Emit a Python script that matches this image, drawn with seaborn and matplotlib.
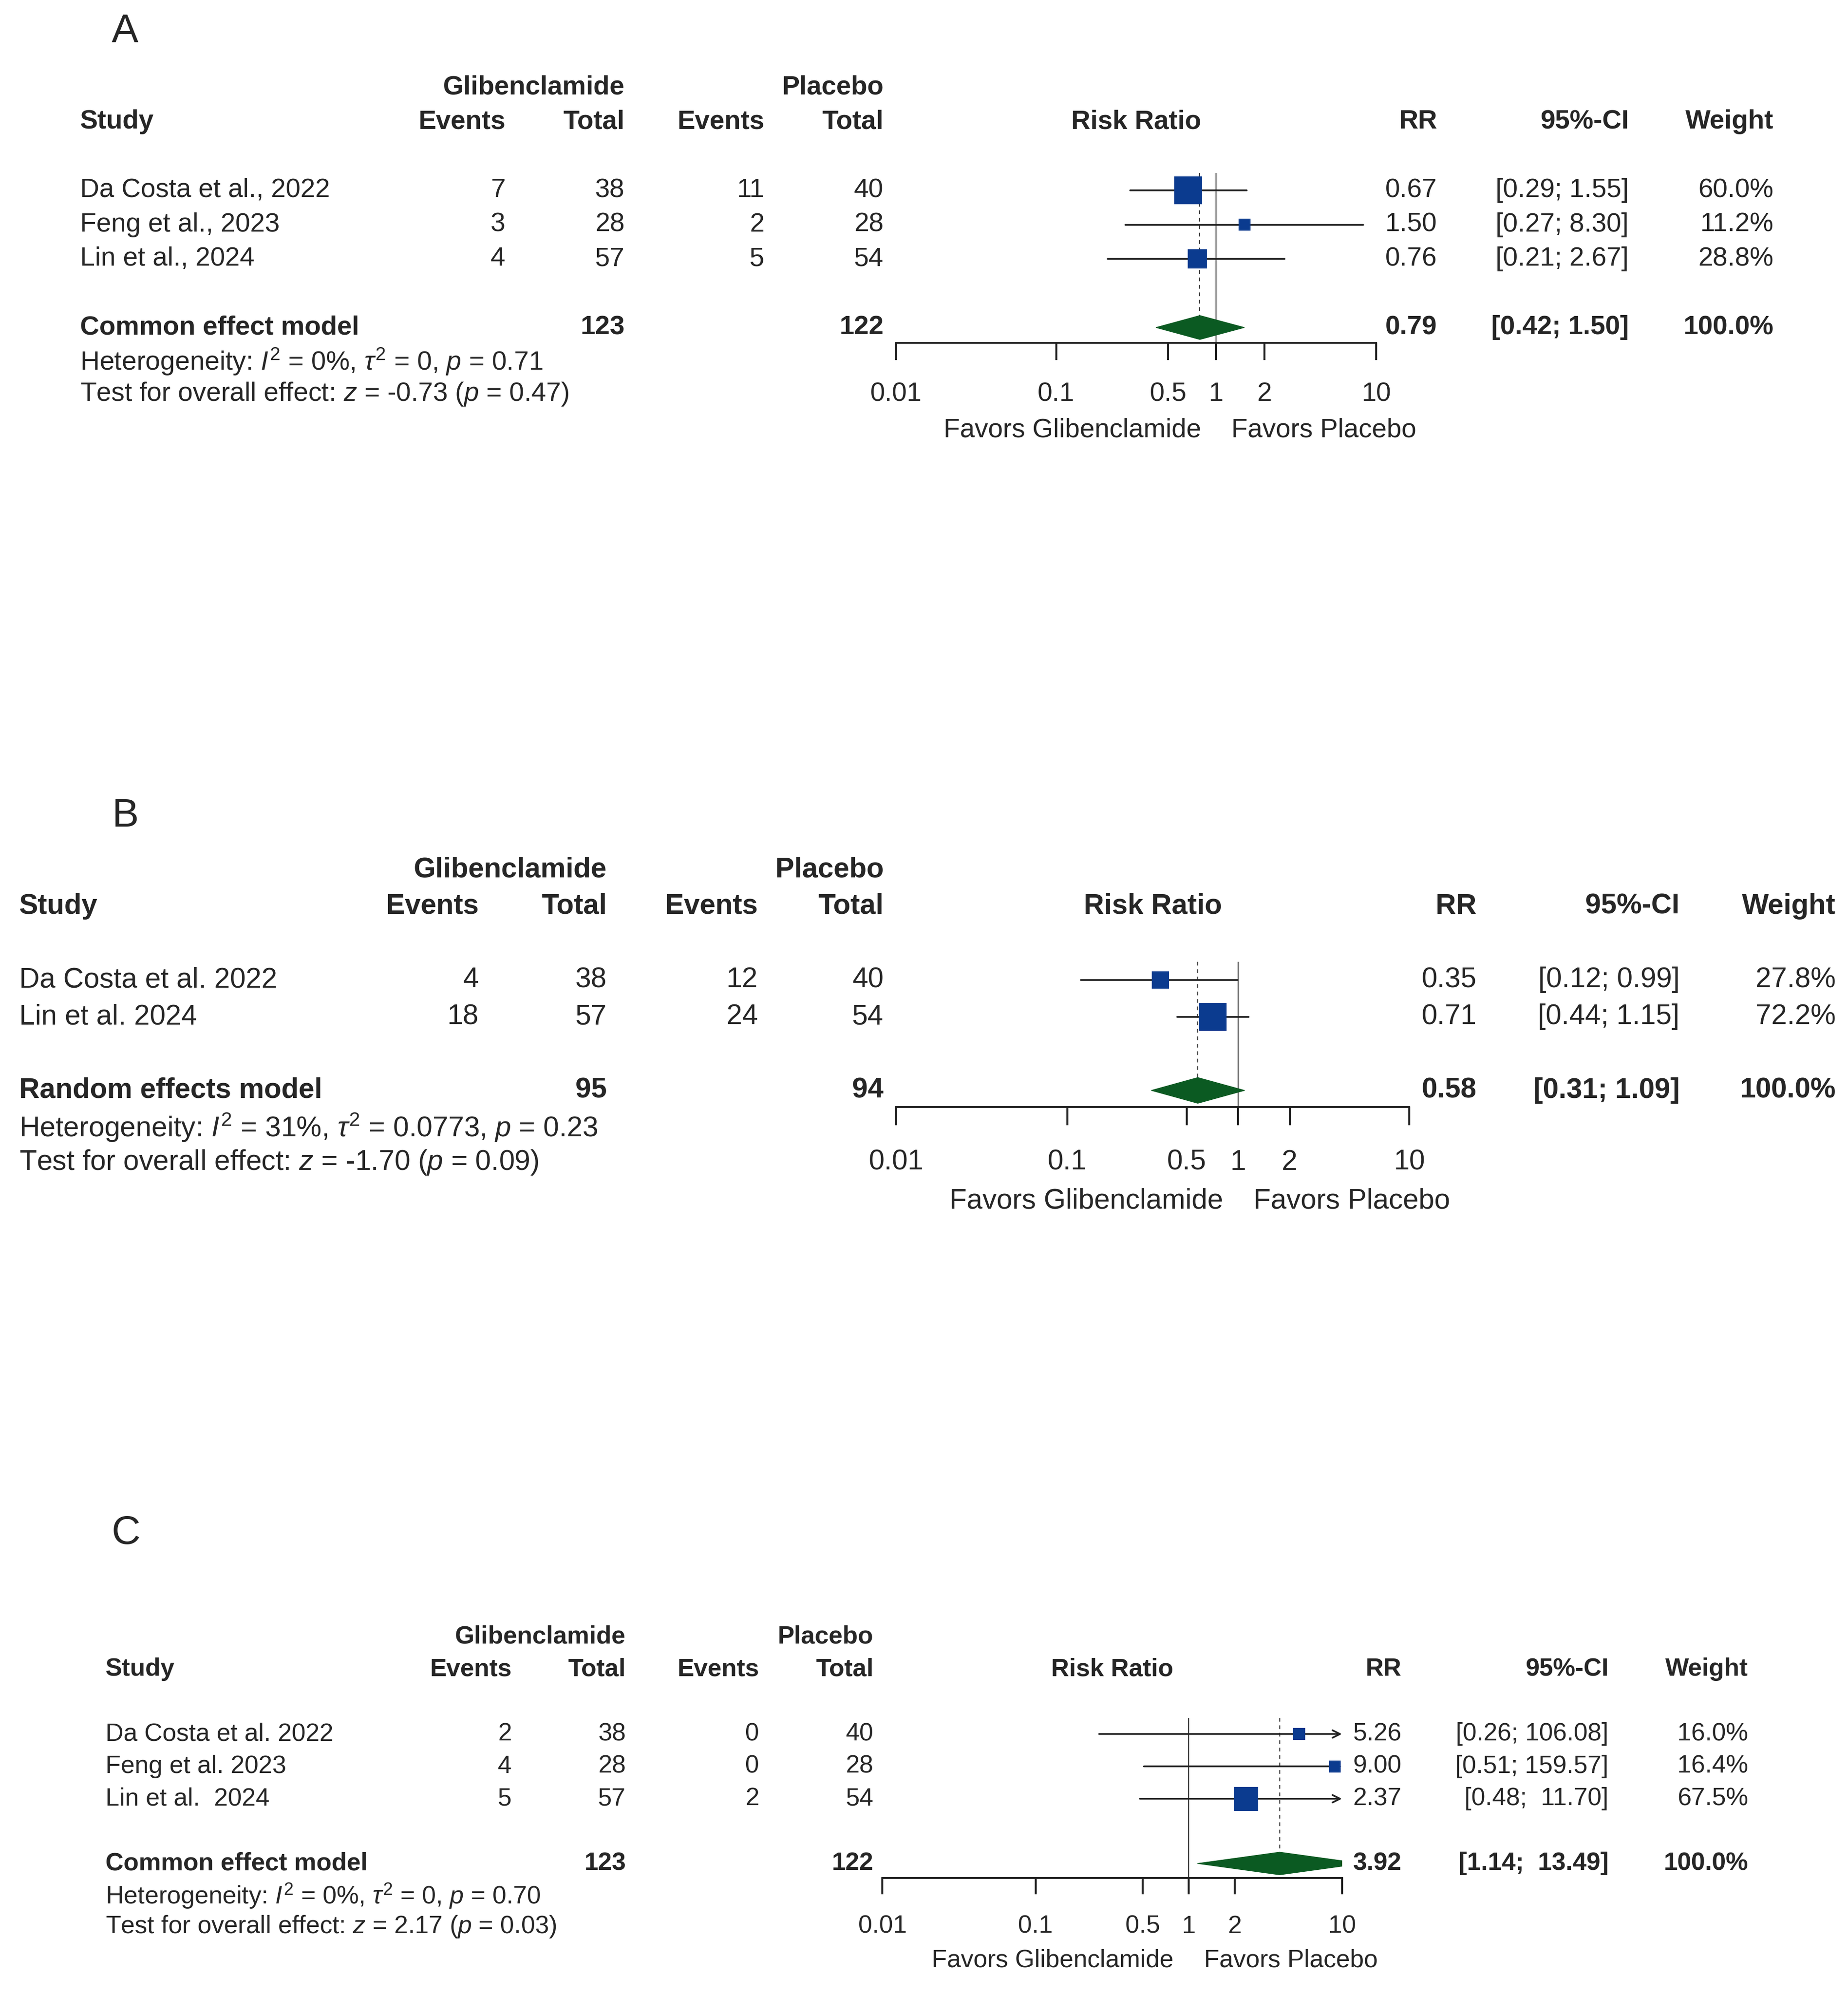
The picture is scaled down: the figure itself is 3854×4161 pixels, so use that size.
import matplotlib
matplotlib.use("Agg")
import matplotlib.pyplot as plt
import matplotlib.transforms as mtransforms
from matplotlib.patches import Polygon
import pandas as pd
import seaborn as sns

# Panel A
A_STUDIES = ["Da Costa et al., 2022", "Feng et al., 2023", "Lin et al., 2024"]
A_GLIB_EVENTS = [7, 3, 4]
A_GLIB_TOTAL = [38, 28, 57]
A_PLAC_EVENTS = [11, 2, 5]
A_PLAC_TOTAL = [40, 28, 54]
A_RR = [0.67, 1.50, 0.76]
A_LOWER = [0.29, 0.27, 0.21]
A_UPPER = [1.55, 8.30, 2.67]
A_WEIGHT = [60.0, 11.2, 28.8]
A_POOLED = [0.79, 0.42, 1.50]
A_MODEL = "Common effect model"
A_HET = ["0", "0", "0.71"]      # I2, tau2, p
A_TEST = ["-0.73", "0.47"]      # z, p

# Panel B
B_STUDIES = ["Da Costa et al. 2022", "Lin et al. 2024"]
B_GLIB_EVENTS = [4, 18]
B_GLIB_TOTAL = [38, 57]
B_PLAC_EVENTS = [12, 24]
B_PLAC_TOTAL = [40, 54]
B_RR = [0.35, 0.71]
B_LOWER = [0.12, 0.44]
B_UPPER = [0.99, 1.15]
B_WEIGHT = [27.8, 72.2]
B_POOLED = [0.58, 0.31, 1.09]
B_MODEL = "Random effects model"
B_HET = ["31", "0.0773", "0.23"]
B_TEST = ["-1.70", "0.09"]

# Panel C
C_STUDIES = ["Da Costa et al. 2022", "Feng et al. 2023", "Lin et al.  2024"]
C_GLIB_EVENTS = [2, 4, 5]
C_GLIB_TOTAL = [38, 28, 57]
C_PLAC_EVENTS = [0, 0, 2]
C_PLAC_TOTAL = [40, 28, 54]
C_RR = [5.26, 9.00, 2.37]
C_LOWER = [0.26, 0.51, 0.48]
C_UPPER = [106.08, 159.57, 11.70]
C_WEIGHT = [16.0, 16.4, 67.5]
C_POOLED = [3.92, 1.14, 13.49]
C_MODEL = "Common effect model"
C_HET = ["0", "0", "0.70"]
C_TEST = ["2.17", "0.03"]

TICKS = [0.01, 0.1, 0.5, 1, 2, 10]
TICK_LABELS = ["0.01", "0.1", "0.5", "1", "2", "10"]

SQ_COLOR = "#0b3b8f"
DIAMOND_COLOR = "#0b5a22"
LINE_COLOR = "#222222"

# layout in pixels of a 1456-wide copy of the picture
W_DISP, H_DISP = 1456.0, 1571.6
LAYOUT = {
    "A": dict(letter=(88, 25), row0=150, step=27, fs=40, x001=706, x10=1084,
              study=63, ge=398, gt=492, pe=602, pt=696, rr=1132, ci=1283, w=1397,
              sq=1750, ci_w=4),
    "B": dict(letter=(88, 643), row0=772, step=29, fs=42.5, x001=706, x10=1110,
              study=15, ge=377, gt=478, pe=597, pt=696, rr=1163, ci=1323, w=1446,
              sq=1750, ci_w=4),
    "C": dict(letter=(88, 1208), row0=1366, step=25.5, fs=37.5, x001=695, x10=1057,
              study=83, ge=403, gt=493, pe=598, pt=688, rr=1104, ci=1267, w=1377,
              sq=1300, ci_w=6),
}
TICK_LEN = 0.5  # in rows


def fx(px):
    return px / W_DISP


def fy(py):
    return 1 - py / H_DISP


def draw_panel(fig, letter, studies, ge, gt, pe, pt, rr, lo, hi, wt, pooled, model, het, test):
    lay = LAYOUT[letter]
    n = len(studies)
    fs = lay["fs"]
    y_bot = n + 1.45
    top_px = lay["row0"] - 0.5 * lay["step"]
    bot_px = lay["row0"] + y_bot * lay["step"]
    ax = fig.add_axes([fx(lay["x001"]), fy(bot_px),
                       fx(lay["x10"]) - fx(lay["x001"]), (bot_px - top_px) / H_DISP])

    # squares sized by weight
    df = pd.DataFrame({"rr": rr, "row": list(range(n)), "w": wt})
    sizes = {w: lay["sq"] * w / max(wt) for w in wt}
    sns.scatterplot(data=df, x="rr", y="row", size="w", sizes=sizes, marker="s",
                    color=SQ_COLOR, edgecolor=SQ_COLOR, linewidth=0, legend=False,
                    ax=ax, zorder=3)

    ax.set_xscale("log")
    ax.set_xlim(0.01, 10)
    ax.set_ylim(y_bot, -0.5)

    # confidence intervals
    for i in range(n):
        if hi[i] > 10:
            ax.annotate("", xy=(10, i), xytext=(lo[i], i),
                        arrowprops=dict(arrowstyle="->", lw=2.6, color=LINE_COLOR,
                                        shrinkA=0, shrinkB=0, mutation_scale=28),
                        zorder=2)
        else:
            ax.plot([lo[i], hi[i]], [i, i], color=LINE_COLOR, lw=2.6, zorder=2)

    # reference line and pooled estimate line
    ax.axvline(1, color=LINE_COLOR, lw=1.4, zorder=1)
    ax.plot([pooled[0], pooled[0]], [-0.5, n + 1 - 0.35], color=LINE_COLOR, lw=1.4,
            ls=(0, (4, 4)), zorder=1)

    # diamond
    h = 0.35
    yd = n + 1
    ax.add_patch(Polygon([(pooled[1], yd), (pooled[0], yd - h), (pooled[2], yd),
                          (pooled[0], yd + h)], closed=True,
                         facecolor=DIAMOND_COLOR, edgecolor=DIAMOND_COLOR, zorder=3))

    # axis line with downward ticks
    for s in ["left", "right", "top"]:
        ax.spines[s].set_visible(False)
    ax.spines["bottom"].set_linewidth(2.8)
    ax.spines["bottom"].set_color(LINE_COLOR)
    ax.set_xticks(TICKS)
    ax.minorticks_off()
    ax.tick_params(axis="x", which="both", bottom=False, labelbottom=False)
    ax.set_yticks([])
    ax.set_xlabel("")
    ax.set_ylabel("")
    ax.patch.set_alpha(0)
    for t, lab in zip(TICKS, TICK_LABELS):
        ax.plot([t, t], [y_bot, y_bot + TICK_LEN], color=LINE_COLOR, lw=3.0,
                clip_on=False, solid_capstyle="butt", zorder=10)
        ax.text(t, n + 2.95, lab, ha="center", va="center", fontsize=fs, clip_on=False)

    ax.annotate("Favors Glibenclamide", xy=(1, n + 4), xycoords="data",
                xytext=(-23, 0), textcoords="offset points", ha="right", va="center",
                fontsize=fs, annotation_clip=False)
    ax.annotate("Favors Placebo", xy=(1, n + 4), xycoords="data",
                xytext=(23, 0), textcoords="offset points", ha="left", va="center",
                fontsize=fs, annotation_clip=False)

    # table text
    tr = mtransforms.blended_transform_factory(fig.transFigure, ax.transData)

    def put(xpx, y, s, ha="right", bold=False):
        ax.text(fx(xpx), y, s, transform=tr, ha=ha, va="center", fontsize=fs,
                fontweight="bold" if bold else "normal", clip_on=False)

    put(lay["gt"], -3, "Glibenclamide", bold=True)
    put(lay["pt"], -3, "Placebo", bold=True)
    put(lay["study"], -2, "Study", ha="left", bold=True)
    put(lay["ge"], -2, "Events", bold=True)
    put(lay["gt"], -2, "Total", bold=True)
    put(lay["pe"], -2, "Events", bold=True)
    put(lay["pt"], -2, "Total", bold=True)
    ax.text(0.5, -2, "Risk Ratio", transform=mtransforms.blended_transform_factory(
        ax.transAxes, ax.transData), ha="center", va="center", fontsize=fs,
        fontweight="bold", clip_on=False)
    put(lay["rr"], -2, "RR", bold=True)
    put(lay["ci"], -2, "95%-CI", bold=True)
    put(lay["w"], -2, "Weight", bold=True)

    cw = lay["ci_w"]
    for i in range(n):
        put(lay["study"], i, studies[i], ha="left")
        put(lay["ge"], i, str(ge[i]))
        put(lay["gt"], i, str(gt[i]))
        put(lay["pe"], i, str(pe[i]))
        put(lay["pt"], i, str(pt[i]))
        put(lay["rr"], i, f"{rr[i]:.2f}")
        put(lay["ci"], i, f"[{lo[i]:.2f}; {hi[i]:{cw}.2f}]")
        put(lay["w"], i, f"{wt[i]:.1f}%")

    yp = n + 1
    put(lay["study"], yp, model, ha="left", bold=True)
    put(lay["gt"], yp, str(sum(gt)), bold=True)
    put(lay["pt"], yp, str(sum(pt)), bold=True)
    put(lay["rr"], yp, f"{pooled[0]:.2f}", bold=True)
    put(lay["ci"], yp, f"[{pooled[1]:.2f}; {pooled[2]:{cw}.2f}]", bold=True)
    put(lay["w"], yp, "100.0%", bold=True)

    put(lay["study"], n + 2,
        rf"Heterogeneity: $I^2$ = {het[0]}%, $\tau^2$ = {het[1]}, $p$ = {het[2]}", ha="left")
    put(lay["study"], n + 2.95,
        rf"Test for overall effect: $z$ = {test[0]} ($p$ = {test[1]})", ha="left")

    lx, ly = lay["letter"]
    fig.text(fx(lx), fy(ly), letter, fontsize=60, ha="left", va="center")
    return ax


sns.set_theme(style="white")
plt.rcParams["font.family"] = ["Liberation Sans", "DejaVu Sans"]
plt.rcParams["mathtext.fontset"] = "custom"
plt.rcParams["mathtext.rm"] = "Liberation Sans"
plt.rcParams["mathtext.it"] = "Liberation Sans:italic"
plt.rcParams["mathtext.bf"] = "Liberation Sans:bold"

fig = plt.figure(figsize=(38.55, 41.61), dpi=100)
fig.patch.set_facecolor("white")

draw_panel(fig, "A", A_STUDIES, A_GLIB_EVENTS, A_GLIB_TOTAL, A_PLAC_EVENTS, A_PLAC_TOTAL,
           A_RR, A_LOWER, A_UPPER, A_WEIGHT, A_POOLED, A_MODEL, A_HET, A_TEST)
draw_panel(fig, "B", B_STUDIES, B_GLIB_EVENTS, B_GLIB_TOTAL, B_PLAC_EVENTS, B_PLAC_TOTAL,
           B_RR, B_LOWER, B_UPPER, B_WEIGHT, B_POOLED, B_MODEL, B_HET, B_TEST)
draw_panel(fig, "C", C_STUDIES, C_GLIB_EVENTS, C_GLIB_TOTAL, C_PLAC_EVENTS, C_PLAC_TOTAL,
           C_RR, C_LOWER, C_UPPER, C_WEIGHT, C_POOLED, C_MODEL, C_HET, C_TEST)

fig.savefig("out.png", dpi=100, facecolor="white")
